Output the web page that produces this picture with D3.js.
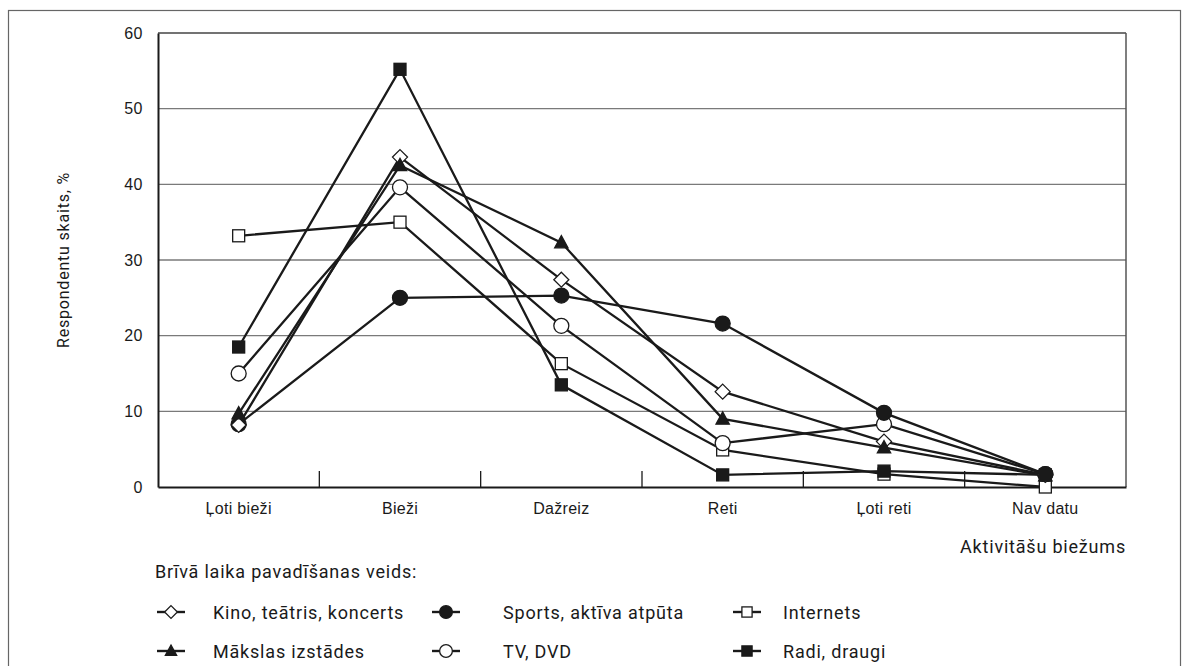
<!DOCTYPE html>
<html>
<head>
<meta charset="utf-8">
<script src="https://cdn.jsdelivr.net/npm/d3@7"></script>
<style>
  html, body { margin: 0; padding: 0; background: #fff; }
  svg { display: block; font-family: Roboto, "Liberation Sans", sans-serif; }
</style>
</head>
<body>
<svg id="chart" width="1189" height="666"></svg>
<script>
const categories = ["Ļoti bieži", "Bieži", "Dažreiz", "Reti", "Ļoti reti", "Nav datu"];
const yTicks = [0, 10, 20, 30, 40, 50, 60];

const kino    = [8.2, 43.6, 27.4, 12.6, 6.0, 1.6];
const sports  = [8.3, 25.0, 25.3, 21.6, 9.8, 1.7];
const internets = [33.2, 35.0, 16.3, 4.9, 1.7, 0.0];
const maksla  = [9.7, 42.5, 32.3, 9.0, 5.2, 1.5];
const tv      = [15.0, 39.6, 21.3, 5.8, 8.3, 1.7];
const radi    = [18.5, 55.2, 13.5, 1.6, 2.1, 1.6];

const seriesNames = ["Kino, teātris, koncerts", "Sports, aktīva atpūta", "Internets",
                     "Mākslas izstādes", "TV, DVD", "Radi, draugi"];

const series = [
  { name: seriesNames[0], values: kino, symbol: "diamond", fill: "#fff" },
  { name: seriesNames[1], values: sports, symbol: "circle", fill: "#1a1a1a" },
  { name: seriesNames[2], values: internets, symbol: "square", fill: "#fff" },
  { name: seriesNames[3], values: maksla, symbol: "triangle", fill: "#1a1a1a" },
  { name: seriesNames[4], values: tv, symbol: "circle", fill: "#fff" },
  { name: seriesNames[5], values: radi, symbol: "square", fill: "#1a1a1a" }
];
const drawOrder = [2, 4, 1, 0, 3, 5];

const svg = d3.select("#chart");
const ink = "#1a1a1a";

// outer frame
svg.append("rect").attr("x", 8.5).attr("y", 10.5).attr("width", 1172).attr("height", 700)
  .attr("fill", "none").attr("stroke", "#666").attr("stroke-width", 1.2);

const pLeft = 158, pRight = 1126, pTop = 33, pBottom = 487;
const x = d3.scaleBand().domain(categories).range([pLeft, pRight]);
const y = d3.scaleLinear().domain([0, 60]).range([pBottom, pTop]);

// gridlines
svg.append("g").selectAll("line").data(yTicks.filter(t => t > 0 && t < 60)).join("line")
  .attr("x1", pLeft).attr("x2", pRight).attr("y1", d => y(d)).attr("y2", d => y(d))
  .attr("stroke", "#7a7a7a").attr("stroke-width", 1.3);

// plot frame
svg.append("line").attr("x1", pLeft).attr("x2", pRight).attr("y1", pTop).attr("y2", pTop)
  .attr("stroke", "#444").attr("stroke-width", 1.5);
svg.append("line").attr("x1", pRight).attr("x2", pRight).attr("y1", pTop).attr("y2", pBottom)
  .attr("stroke", "#555").attr("stroke-width", 1.5);

// y axis
const yAxis = d3.axisLeft(y).tickValues(yTicks).tickSize(0).tickPadding(15);
const gy = svg.append("g").attr("transform", `translate(${pLeft},0)`).call(yAxis);
gy.select(".domain").attr("stroke", ink).attr("stroke-width", 2);
gy.selectAll("text").attr("font-size", 16).attr("letter-spacing", 0.5).attr("fill", ink);

// x axis
const xAxis = d3.axisBottom(x).tickSize(0).tickPadding(16);
const gx = svg.append("g").attr("transform", `translate(0,${pBottom})`).call(xAxis);
gx.select(".domain").attr("stroke", ink).attr("stroke-width", 2);
gx.selectAll("text").attr("font-size", 16).attr("letter-spacing", 0.3).attr("fill", ink);

// category boundary ticks (inward)
svg.append("g").selectAll("line").data(categories.slice(1)).join("line")
  .attr("x1", d => x(d)).attr("x2", d => x(d))
  .attr("y1", pBottom).attr("y2", pBottom - 16)
  .attr("stroke", ink).attr("stroke-width", 1.3);

// axis titles
svg.append("text").attr("transform", `translate(69,${(pTop + pBottom) / 2}) rotate(-90)`)
  .attr("text-anchor", "middle").attr("font-size", 16).attr("letter-spacing", 0.8).attr("fill", ink)
  .text("Respondentu skaits, %");
svg.append("text").attr("x", pRight).attr("y", 553).attr("text-anchor", "end")
  .attr("font-size", 18).attr("letter-spacing", 0.8).attr("fill", ink).text("Aktivitāšu biežums");

// symbols
function drawSymbol(g, type, fill, scale) {
  const s = scale || 1;
  let sym;
  if (type === "diamond") {
    const r = 7.5 * s;
    sym = g.append("path").attr("d", `M0,${-r}L${r},0L0,${r}L${-r},0Z`);
  } else if (type === "circle") {
    sym = g.append("circle").attr("r", 7.5 * s);
  } else if (type === "square") {
    const h = 6 * s;
    sym = g.append("rect").attr("x", -h).attr("y", -h).attr("width", 2 * h).attr("height", 2 * h);
  } else if (type === "triangle") {
    const h = 7 * s;
    sym = g.append("path").attr("d", `M0,${-h}L${h * 0.95},${h * 0.75}L${-h * 0.95},${h * 0.75}Z`);
  }
  sym.attr("fill", fill).attr("stroke", ink).attr("stroke-width", 1.3);
}

const line = d3.line()
  .x((d, i) => x(categories[i]) + x.bandwidth() / 2)
  .y(d => y(d));

const linesG = svg.append("g");
drawOrder.forEach(si => {
  linesG.append("path").datum(series[si].values).attr("d", line)
    .attr("fill", "none").attr("stroke", ink).attr("stroke-width", 2.3);
});
const marksG = svg.append("g");
drawOrder.forEach(si => {
  const s = series[si];
  s.values.forEach((v, i) => {
    const g = marksG.append("g")
      .attr("transform", `translate(${x(categories[i]) + x.bandwidth() / 2},${y(v)})`);
    drawSymbol(g, s.symbol, s.fill);
  });
});

// legend
svg.append("text").attr("x", 155).attr("y", 578).attr("font-size", 18).attr("letter-spacing", 0.8)
  .attr("fill", ink).text("Brīvā laika pavadīšanas veids:");
const legLine = [157, 432, 733];
const legText = [213, 503, 783];
const legRows = [612, 651];
series.forEach((s, i) => {
  const c = i % 3, cy = legRows[Math.floor(i / 3)];
  const g = svg.append("g").attr("transform", `translate(${legLine[c]},${cy})`);
  g.append("line").attr("x1", 0).attr("x2", 28).attr("y1", 0).attr("y2", 0)
    .attr("stroke", ink).attr("stroke-width", 2.4);
  const sg = g.append("g").attr("transform", "translate(14,0)");
  drawSymbol(sg, s.symbol, s.fill, 0.85);
  svg.append("text").attr("x", legText[c]).attr("y", cy + 6.5).attr("font-size", 18)
    .attr("letter-spacing", 0.8).attr("fill", ink).text(s.name);
});
</script>
</body>
</html>
